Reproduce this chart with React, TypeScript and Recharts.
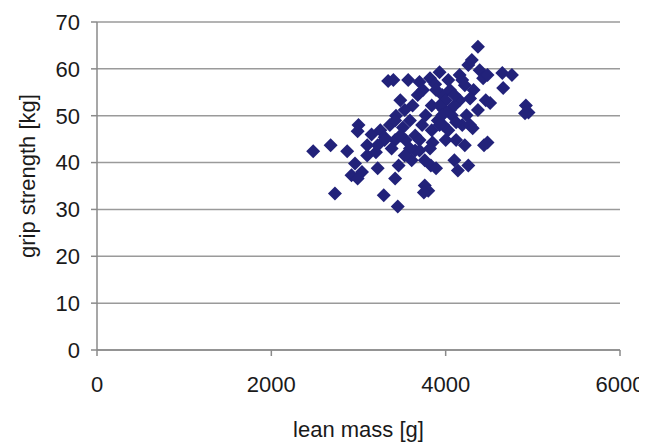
import { ScatterChart, Scatter, XAxis, YAxis, CartesianGrid } from 'recharts'

// lean mass [g]
const leanMass = [
  2480, 2680, 2870, 2730, 3000, 2990, 2960, 2920, 2990, 3040,
  3100, 3100, 3200, 3150, 3250, 3300, 3220, 3290, 3340, 3400,
  3450, 3480, 3430, 3460, 3420, 3510, 3540, 3420, 3380, 3360,
  3590, 3620, 3570, 3700, 3740, 3680, 3770, 3730, 3650, 3650,
  3610, 3700, 3760, 3800, 3750, 3820, 3840, 3840, 3850, 3830,
  3930, 3890, 3910, 3960, 3980, 4000, 4030, 4050, 4030, 4000,
  3970, 4070, 4100, 4140, 4120, 4160, 4160, 4220, 4260, 4190,
  4240, 4280, 4260, 4300, 4370, 4320, 4370, 4390, 4430, 4440,
  4480, 4460, 4510, 4480, 4650, 4660, 4760, 4920, 4950, 4910,
  3420, 3530, 3880, 3890, 3930, 3960, 3930, 4050, 4100, 4100,
  4120, 3700, 3760, 3820, 3590, 3530, 3300, 3220, 3480, 4310,
  4220, 4190, 4280,
]

// grip strength [kg]
const gripStrength = [
  42.4, 43.7, 42.4, 33.4, 48.0, 46.7, 39.8, 37.3, 36.6, 38.0,
  43.7, 41.5, 42.2, 46.0, 46.9, 45.4, 38.8, 33.0, 57.4, 57.6,
  30.6, 53.3, 50.0, 39.4, 36.6, 47.5, 44.8, 44.8, 43.0, 48.0,
  49.0, 52.2, 57.6, 57.2, 55.5, 54.4, 50.1, 48.0, 45.8, 42.6,
  40.5, 44.8, 35.1, 34.0, 33.6, 58.0, 52.2, 46.9, 44.3, 39.4,
  59.3, 38.8, 49.0, 54.4, 51.2, 53.3, 57.6, 55.5, 46.9, 44.8,
  48.0, 50.1, 40.5, 38.3, 44.8, 53.3, 58.7, 56.5, 60.8, 48.0,
  50.1, 48.0, 39.4, 61.9, 64.7, 55.5, 51.2, 59.7, 58.0, 43.7,
  44.3, 53.3, 52.7, 58.7, 59.1, 55.9, 58.7, 52.2, 50.7, 50.5,
  49.0, 51.2, 56.7, 55.5, 52.2, 50.1, 48.0, 51.2, 52.2, 54.4,
  48.6, 42.6, 40.5, 43.0, 43.0, 41.5, 44.8, 43.7, 45.8, 47.3,
  43.7, 57.6, 53.7,
]

const xTicks = [0, 2000, 4000, 6000]
const yTicks = [0, 10, 20, 30, 40, 50, 60, 70]

const points = leanMass.map((x, i) => ({ x, y: gripStrength[i] }))

const font = 'Arial, "Liberation Sans", sans-serif'
const axisColor = '#8a8a8a'
const textColor = '#1a1a1a'

const Diamond = (props: { cx?: number; cy?: number }) => {
  const { cx = 0, cy = 0 } = props
  const r = 7
  return (
    <path
      d={`M${cx},${cy - r}L${cx + r},${cy}L${cx},${cy + r}L${cx - r},${cy}Z`}
      fill="#22227a"
    />
  )
}

const YTitle = ({ viewBox }: { viewBox?: { x: number; y: number; width: number; height: number } }) => {
  if (!viewBox) return null
  const x = viewBox.x + 19
  const y = viewBox.y + viewBox.height / 2 - 10
  return (
    <text
      x={x}
      y={y}
      transform={`rotate(-90 ${x} ${y})`}
      textAnchor="middle"
      dominantBaseline="central"
      fill={textColor}
      fontSize={22}
      fontFamily={font}
    >
      grip strength [kg]
    </text>
  )
}

export default function App() {
  return (
    <ScatterChart width={639} height={434} margin={{ top: 14, right: 27, left: 0, bottom: 0 }}>
      <CartesianGrid horizontal vertical={false} stroke="#9a9a9a" strokeWidth={1.5} />
      <XAxis
        type="number"
        dataKey="x"
        domain={[0, 6000]}
        ticks={xTicks}
        height={92}
        tickSize={6}
        tickMargin={20}
        stroke={axisColor}
        strokeWidth={1.5}
        tick={{ fill: textColor, fontSize: 22, fontFamily: font }}
        label={{ value: 'lean mass [g]', position: 'insideBottom', offset: 5, fill: textColor, fontSize: 22, fontFamily: font }}
      />
      <YAxis
        type="number"
        dataKey="y"
        domain={[0, 70]}
        ticks={yTicks}
        width={89}
        tickSize={6}
        tickMargin={11}
        stroke={axisColor}
        strokeWidth={1.5}
        tick={{ fill: textColor, fontSize: 22, fontFamily: font }}
        label={<YTitle />}
      />
      <Scatter data={points} shape={<Diamond />} isAnimationActive={false} />
    </ScatterChart>
  )
}
